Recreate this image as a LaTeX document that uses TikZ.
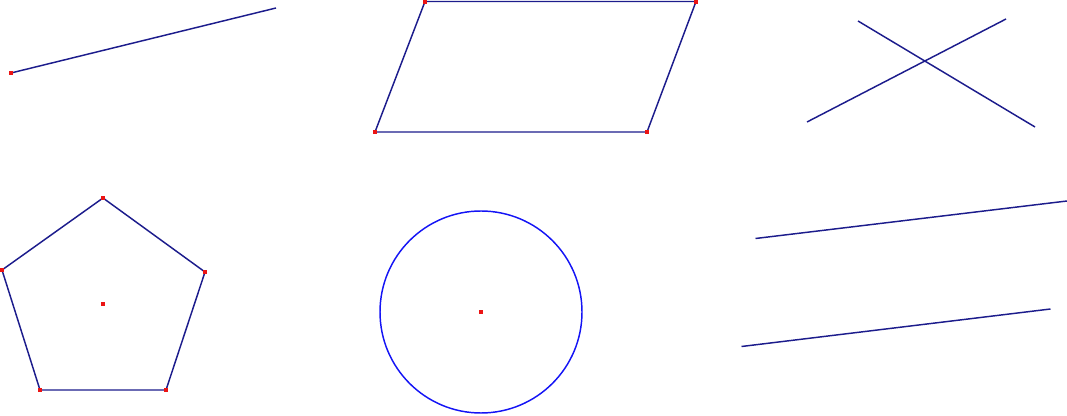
\documentclass[tikz,border=0pt]{standalone}
\definecolor{linecol}{RGB}{28,28,140}
\definecolor{circcol}{RGB}{20,20,245}
\definecolor{dotcol}{RGB}{235,20,20}
\tikzset{
  seg/.style={draw=linecol, line width=1.1pt},
  circ/.style={draw=circcol, line width=1.1pt},
  dot/.style={fill=dotcol, inner sep=0pt, minimum size=3.2pt, rectangle}
}
\begin{document}
\begin{tikzpicture}[x=0.75pt,y=-0.75pt]
\useasboundingbox (0,0) rectangle (1067,416);
% line 1
\coordinate (a1) at (11,73);
\coordinate (a2) at (276,8);
\draw[seg] (a1) -- (a2);
\node[dot] at (a1) {};
% parallelogram
\coordinate (p1) at (425,1.5);
\coordinate (p2) at (696,1.5);
\coordinate (p3) at (647,132);
\coordinate (p4) at (375,132);
\draw[seg] (p1) -- (p2) -- (p3) -- (p4) -- cycle;
\foreach \p in {p1,p2,p3,p4} \node[dot] at (\p) {};
% crossing lines
\coordinate (c1) at (858,21);
\coordinate (c2) at (1035,127);
\coordinate (c3) at (807,122);
\coordinate (c4) at (1006,19);
\draw[seg] (c1) -- (c2);
\draw[seg] (c3) -- (c4);
% pentagon
\coordinate (q1) at (103,198);
\coordinate (q2) at (205,272);
\coordinate (q3) at (166,390);
\coordinate (q4) at (40,390);
\coordinate (q5) at (2,270);
\coordinate (qc) at (103,304);
\draw[seg] (q1) -- (q2) -- (q3) -- (q4) -- (q5) -- cycle;
\foreach \p in {q1,q2,q3,q4,q5,qc} \node[dot] at (\p) {};
% circle
\coordinate (o) at (481,312);
\draw[circ] (o) circle[radius=101];
\node[dot] at (o) {};
% parallel lines
\coordinate (l1) at (755.5,238.5);
\coordinate (l2) at (1067,201);
\coordinate (l3) at (741.5,346.5);
\coordinate (l4) at (1050.5,309);
\draw[seg] (l1) -- (l2);
\draw[seg] (l3) -- (l4);
\end{tikzpicture}
\end{document}
